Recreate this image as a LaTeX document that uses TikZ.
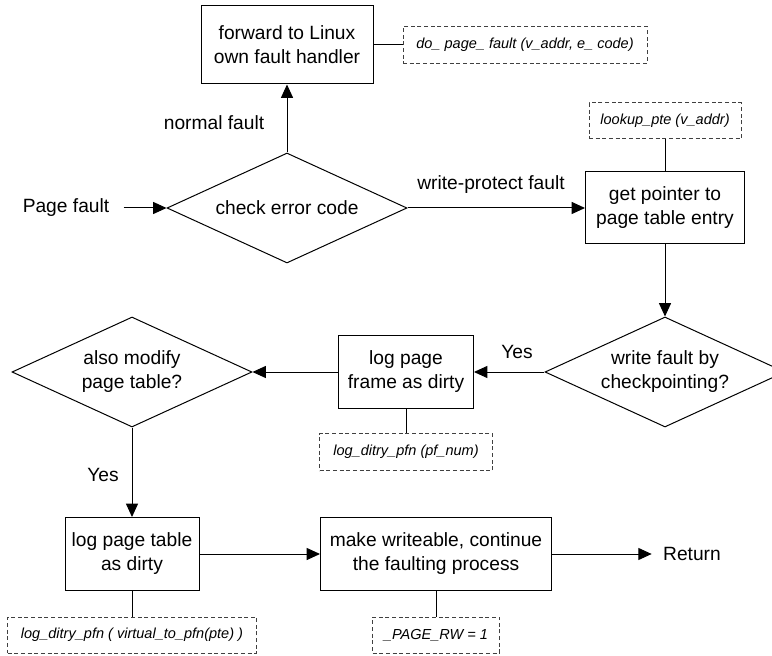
\documentclass[tikz,border=0pt]{standalone}
\usepackage{fontspec}
\setmainfont{Liberation Sans}
\usetikzlibrary{shapes.geometric,arrows.meta}
\begin{document}
\begin{tikzpicture}[x=.75pt,y=-.75pt,>={Triangle[length=10pt,width=9pt]},
    line width=.75pt,font=\fontsize{14.4}{18}\selectfont,
    task/.style={draw,align=center,inner sep=0pt},
    test/.style={draw,shape=diamond,aspect=2.18,align=center,inner sep=0pt,
      minimum width=180pt,minimum height=82.5pt},
    call/.style={draw=black!75,dash pattern=on 3pt off 2pt,inner sep=0pt,
      font=\fontsize{10.9}{13}\selectfont\itshape}]
  \useasboundingbox (0,0) rectangle (772,656);
  % Entry: the fault is sorted by its error code.
  \node (pf) [inner xsep=10.5pt] at (66,208) {Page fault};
  \node (chk) [test] at (287,208) {check error code};
  \node (fwd) [task,minimum width=129pt,minimum height=58.5pt] at (287,45)
    {forward to Linux\\own fault handler};
  \node (getptr) [task,minimum width=119.25pt,minimum height=54pt] at (665,208)
    {get pointer to\\page table entry};
  % Middle row: checkpointing writes are logged.
  \node (wfc) [test] at (665,372) {write fault by\\checkpointing?};
  \node (logframe) [task,minimum width=101.25pt,minimum height=54pt] at (406,372)
    {log page\\frame as dirty};
  \node (amp) [test] at (132,372) {also modify\\page table?};
  % Bottom row.
  \node (logtable) [task,minimum width=100.5pt,minimum height=54.75pt] at (132,554)
    {log page table\\as dirty};
  \node (writeable) [task,minimum width=173.25pt,minimum height=54.75pt] at (436,554)
    {make writeable, continue\\the faulting process};
  \node (ret) [inner xsep=8.25pt] at (692,554) {Return};
  % Kernel calls behind the steps (dashed).
  \node (dofault) [call,minimum width=183pt,minimum height=27.75pt] at (525,45)
    {do\_ page\_ fault (v\_addr, e\_ code)};
  \node (lookup) [call,minimum width=114pt,minimum height=27pt] at (665,121)
    {lookup\_pte (v\_addr)};
  \node (pfnum) [call,minimum width=129.75pt,minimum height=27.75pt] at (406,452)
    {log\_ditry\_pfn (pf\_num)};
  \node (pfnpte) [call,minimum width=186.75pt,minimum height=27pt] at (132,635)
    {log\_ditry\_pfn ( virtual\_to\_pfn(pte) )};
  \node (pagerw) [call,minimum width=95.25pt,minimum height=27pt] at (436,635)
    {\_PAGE\_RW = 1};
  \foreach \a/\b in {fwd/dofault,getptr/lookup,logframe/pfnum,logtable/pfnpte,
      writeable/pagerw} {
    \draw (\a) -- (\b);
  }
  % Flow.
  \draw[->] (pf) -- (chk);
  \draw[->] (chk) -- (fwd);
  \draw[->] (chk) -- (getptr);
  \draw[->] (getptr) -- (wfc);
  \draw[->] (wfc) -- (logframe);
  \draw[->] (logframe) -- (amp);
  \draw[->] (amp) -- (logtable);
  \draw[->] (logtable) -- (writeable);
  \draw[->] (writeable) -- (ret);
  \node (nf) at (214,123) {normal fault};
  \node (wp) at (491,185) {write-protect fault};
  \node (yesa) at (517,352) {Yes};
  \node (yesb) at (103,475) {Yes};
\end{tikzpicture}
\end{document}
